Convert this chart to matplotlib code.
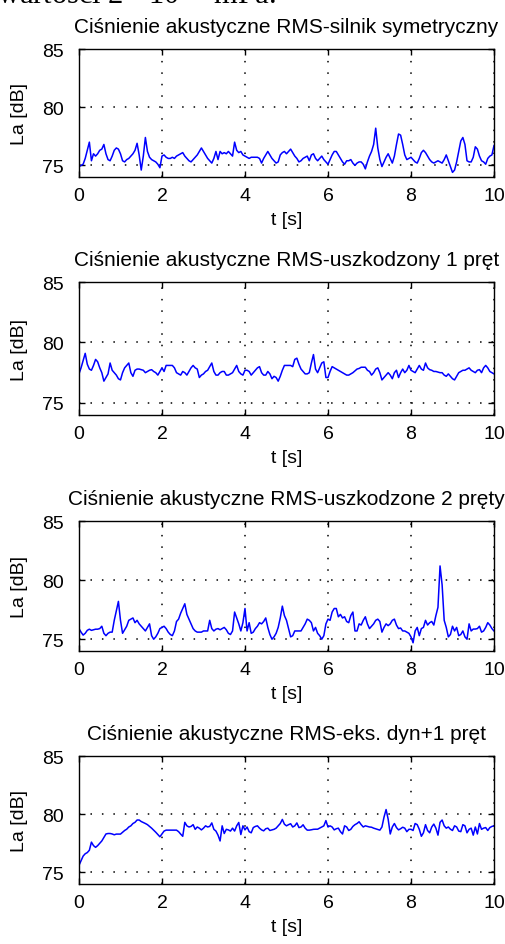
import numpy as np
import matplotlib.pyplot as plt

# ------------------------------
# Data (La [dB] sampled every 0.05 s)
# ------------------------------
t = np.arange(201) * 0.05

la_symetryczny = [
    74.9, 75.0, 75.1, 75.6, 76.3, 77.0, 75.4, 76.0, 75.8, 76.0, 76.3, 76.4, 76.8, 76.0, 75.5, 75.4, 75.8, 76.3, 76.5, 76.4,
    76.0, 75.4, 75.3, 75.5, 75.6, 75.8, 76.0, 76.3, 76.9, 75.9, 74.6, 75.8, 77.4, 76.2, 75.7, 75.5, 75.4, 75.3, 75.1, 74.8,
    75.8, 75.9, 75.7, 75.6, 75.6, 75.7, 75.6, 75.8, 75.9, 76.0, 76.1, 75.8, 75.6, 75.4, 75.3, 75.5, 75.7, 75.9, 76.2, 76.5,
    76.2, 75.9, 75.6, 75.4, 75.2, 75.6, 76.2, 75.5, 76.2, 76.0, 76.1, 76.0, 76.2, 76.0, 75.8, 77.0, 76.3, 76.1, 76.2, 75.9,
    75.8, 75.7, 75.6, 75.7, 75.7, 75.7, 75.7, 75.6, 75.2, 75.6, 75.9, 76.2, 75.9, 75.6, 75.4, 75.2, 75.3, 75.9, 76.1, 76.2,
    76.0, 76.2, 76.4, 76.1, 75.8, 75.6, 75.3, 75.4, 75.6, 75.7, 75.8, 75.4, 75.9, 76.0, 75.6, 75.4, 75.6, 75.8, 75.5, 75.3,
    75.1, 75.5, 75.9, 76.2, 76.2, 75.9, 75.6, 75.3, 75.1, 75.4, 75.4, 75.5, 75.2, 75.0, 75.2, 75.3, 75.3, 75.1, 74.7, 75.3,
    75.8, 76.2, 76.8, 78.2, 76.5, 75.5, 74.9, 75.3, 75.7, 76.0, 75.6, 75.2, 75.8, 76.8, 77.7, 77.6, 76.8, 75.9, 75.5, 75.6,
    75.7, 75.5, 75.3, 75.2, 75.6, 76.1, 76.3, 76.1, 75.8, 75.5, 75.3, 75.2, 75.3, 75.4, 75.3, 75.2, 75.5, 75.9, 75.4, 74.9,
    74.4, 74.6, 75.3, 76.2, 77.1, 77.4, 76.8, 75.4, 75.3, 75.3, 75.7, 76.6, 76.4, 75.8, 75.4, 75.3, 75.1, 75.6, 75.8, 75.9,
    76.7,
]

la_1_pret = [
    77.4, 77.9, 78.5, 79.1, 78.2, 77.8, 77.7, 78.1, 78.6, 78.4, 77.9, 77.5, 76.8, 77.1, 77.4, 78.3, 77.7, 77.5, 77.3, 77.0,
    76.9, 77.5, 77.9, 78.1, 78.3, 77.5, 77.2, 77.7, 77.8, 77.8, 77.75, 77.7, 77.5, 77.6, 77.7, 77.75, 77.6, 77.5, 77.3, 77.6,
    77.9, 77.6, 78.1, 78.1, 78.1, 78.1, 77.9, 77.5, 77.4, 77.3, 77.6, 77.5, 77.3, 77.6, 77.9, 78.1, 77.9, 77.8, 77.1, 77.3,
    77.4, 77.6, 77.7, 78.0, 78.3, 77.6, 77.3, 77.3, 77.5, 77.6, 77.6, 77.3, 77.3, 77.4, 77.5, 77.8, 78.1, 77.6, 77.4, 77.3,
    77.7, 77.7, 77.6, 77.3, 77.5, 77.7, 77.9, 78.0, 77.5, 77.3, 77.3, 77.6, 77.4, 77.0, 77.2, 77.1, 76.8, 77.2, 77.7, 78.1,
    78.1, 78.1, 78.1, 78.0, 78.6, 78.7, 78.2, 77.8, 77.6, 77.4, 77.4, 77.5, 78.3, 79.0, 77.8, 77.5, 77.9, 78.3, 78.4, 77.1,
    77.1, 77.6, 78.0, 77.9, 77.8, 77.7, 77.6, 77.5, 77.4, 77.3, 77.3, 77.4, 77.5, 77.65, 77.8, 77.85, 77.95, 77.95, 77.95, 77.7,
    77.6, 77.3, 77.5, 77.8, 77.9, 77.5, 76.9, 77.1, 77.3, 77.5, 77.3, 77.0, 77.5, 77.7, 77.1, 77.5, 77.8, 77.5, 77.7, 78.1,
    77.7, 77.6, 77.5, 77.8, 78.1, 77.8, 77.7, 78.3, 77.9, 77.75, 77.7, 77.6, 77.6, 77.55, 77.5, 77.5, 77.3, 77.2, 77.4, 77.2,
    77.0, 76.9, 77.2, 77.5, 77.6, 77.7, 77.7, 77.8, 77.9, 77.7, 77.6, 77.5, 77.7, 77.75, 77.5, 77.9, 78.1, 77.9, 77.6, 77.5,
    77.4,
]

la_2_prety = [
    75.9, 75.6, 75.35, 75.5, 75.75, 75.85, 75.75, 75.8, 75.85, 75.85, 75.9, 76.1, 75.5, 75.3, 75.5, 75.6, 75.6, 76.6, 77.4, 78.2,
    76.6, 75.5, 75.8, 76.1, 76.6, 76.7, 76.8, 76.4, 76.6, 76.3, 76.1, 75.9, 75.7, 76.0, 76.3, 75.3, 75.0, 75.2, 75.5, 75.9,
    76.0, 76.1, 75.9, 75.6, 75.4, 75.3, 75.7, 76.5, 76.7, 77.2, 77.6, 78.0, 77.1, 76.7, 76.3, 75.9, 75.7, 75.6, 75.6, 75.6,
    75.7, 75.7, 75.7, 76.6, 75.9, 75.7, 75.85, 75.9, 75.8, 75.9, 76.0, 75.8, 75.5, 75.4, 75.7, 77.3, 76.8, 76.3, 75.7, 76.4,
    77.6, 75.7, 76.4, 75.5, 75.6, 75.9, 76.1, 76.4, 76.3, 76.5, 76.8, 76.0, 75.4, 75.0, 75.2, 75.5, 76.0, 76.8, 77.8, 77.0,
    76.6, 75.9, 75.2, 75.3, 75.7, 75.7, 75.7, 75.7, 76.0, 76.3, 76.7, 76.6, 76.4, 75.7, 76.0, 75.5, 75.3, 75.0, 75.3, 76.3,
    76.7, 76.6, 77.3, 77.6, 77.6, 76.9, 77.1, 76.8, 76.9, 76.5, 76.4, 77.0, 77.3, 75.7, 75.7, 76.3, 76.2, 76.6, 76.9, 76.3,
    75.9, 76.1, 76.3, 76.6, 76.7, 76.5, 75.6, 76.0, 76.3, 76.15, 76.3, 76.6, 76.7, 76.2, 75.9, 75.95, 75.7, 75.7, 75.6, 75.5,
    75.2, 74.7, 75.7, 76.0, 75.3, 75.9, 76.0, 76.6, 76.2, 76.4, 76.5, 76.2, 77.0, 77.7, 81.2, 79.6, 76.6, 76.0, 75.2, 75.4,
    76.1, 75.7, 76.0, 75.3, 75.4, 75.7, 75.2, 75.0, 76.3, 75.7, 75.86, 75.86, 75.9, 76.1, 75.6, 75.7, 76.0, 76.4, 76.2, 75.9,
    75.7,
]

la_eks_dyn = [
    75.6, 76.0, 76.4, 76.6, 76.7, 76.9, 77.6, 77.3, 77.15, 77.3, 77.5, 77.7, 78.0, 78.3, 78.34, 78.34, 78.3, 78.23, 78.29, 78.29,
    78.29, 78.45, 78.6, 78.71, 78.9, 79.0, 79.2, 79.3, 79.5, 79.5, 79.37, 79.29, 79.2, 79.1, 78.95, 78.8, 78.63, 78.45, 78.25, 78.06,
    78.3, 78.55, 78.63, 78.63, 78.63, 78.63, 78.63, 78.63, 78.5, 78.29, 78.1, 79.3, 79.0, 78.9, 78.95, 79.1, 78.7, 78.9, 78.8, 78.65,
    78.8, 79.0, 78.9, 78.95, 79.25, 78.7, 78.55, 78.2, 77.7, 79.0, 78.34, 78.7, 78.65, 78.55, 78.8, 78.55, 79.0, 79.29, 78.25, 79.0,
    78.65, 78.9, 78.5, 78.4, 78.85, 78.95, 79.0, 78.8, 78.65, 78.57, 78.75, 78.8, 78.6, 78.65, 78.7, 78.8, 79.0, 79.2, 79.55, 79.14,
    79.0, 79.1, 79.18, 78.9, 79.0, 79.25, 78.85, 78.9, 79.09, 78.8, 78.63, 78.63, 78.66, 78.7, 78.71, 78.71, 78.8, 78.9, 79.0, 79.45,
    78.9, 79.0, 78.9, 78.65, 78.75, 78.8, 78.5, 78.3, 79.0, 78.9, 78.6, 78.7, 78.95, 79.1, 79.2, 79.35, 79.1, 78.9, 79.0, 78.95,
    78.9, 78.88, 78.8, 78.74, 78.68, 78.63, 78.9, 79.75, 80.4, 79.57, 78.3, 78.9, 79.2, 78.85, 78.65, 78.75, 78.88, 78.8, 78.5, 78.7,
    78.7, 78.6, 79.2, 79.1, 78.7, 78.1, 78.4, 79.1, 78.6, 78.4, 78.9, 79.15, 78.8, 78.2, 79.3, 79.5, 79.0, 78.8, 78.9, 78.71,
    78.6, 79.0, 78.9, 78.55, 78.5, 79.1, 79.0, 78.4, 78.7, 78.8, 78.2, 78.9, 78.3, 79.2, 78.7, 78.8, 78.85, 78.6, 78.85, 78.95,
    79.0,
]

titles = [
    "Ciśnienie akustyczne RMS-silnik symetryczny",
    "Ciśnienie akustyczne RMS-uszkodzony 1 pręt",
    "Ciśnienie akustyczne RMS-uszkodzone 2 pręty",
    "Ciśnienie akustyczne RMS-eks. dyn+1 pręt",
]
series = [la_symetryczny, la_1_pret, la_2_prety, la_eks_dyn]

xticks = [0, 2, 4, 6, 8, 10]
yticks = [75, 80, 85]

# axes boxes in figure fraction (left, bottom, width, height)
boxes = [
    [0.1564, 0.8116, 0.8218, 0.1354],
    [0.1564, 0.5598, 0.8218, 0.1407],
    [0.1564, 0.3100, 0.8218, 0.1376],
    [0.1564, 0.0635, 0.8218, 0.1354],
]

plt.rcParams["font.family"] = ["Liberation Sans", "DejaVu Sans"]
plt.rcParams["font.size"] = 14


def main():
    fig = plt.figure(figsize=(5.05, 9.45), dpi=100)

    # clipped line of the surrounding document text (cut off in the source image too)
    fig.text(-0.006, 0.9955, r"wartości 2 · 10$^{-5}$ mPa.", family="Liberation Serif",
             fontsize=22, va="baseline", ha="left", math_fontfamily="stix")

    for box, title, y in zip(boxes, titles, series):
        ax = fig.add_axes(box)
        ax.plot(t, y, color="#0000ff", linewidth=1.1)
        ax.set_xlim(0, 10)
        ax.set_ylim(74, 85)
        ax.set_xticks(xticks)
        ax.set_yticks(yticks)
        ax.grid(True, color="black", linestyle=(0, (1, 6.5)), linewidth=1.1)
        ax.tick_params(direction="in", top=True, right=True, length=4, width=1)
        ax.tick_params(axis="x", pad=7)
        ax.tick_params(axis="y", pad=11)
        for sp in ax.spines.values():
            sp.set_linewidth(1.0)
        ax.set_title(title, fontsize=15, pad=12)
        ax.set_xlabel("t [s]", labelpad=5)
        ax.set_ylabel("La [dB]", labelpad=10)

    fig.savefig("out.png", dpi=100)
    plt.close(fig)


if __name__ == "__main__":
    main()
